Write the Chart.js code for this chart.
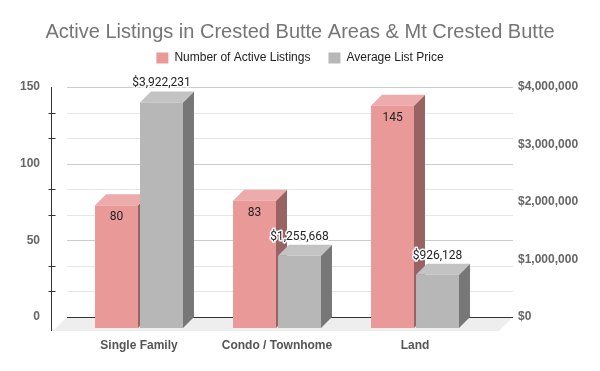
<!DOCTYPE html>
<html>
<head>
<meta charset="utf-8">
<script src="https://cdn.jsdelivr.net/npm/chart.js@4.4.0/dist/chart.umd.min.js"></script>
<style>
  html, body { margin: 0; padding: 0; background: #fff; }
  #wrap { width: 600px; height: 371px; }
</style>
</head>
<body>
<div id="wrap"><canvas id="chart" width="600" height="371"></canvas></div>
<script>
// chart data
const categories = ['Single Family', 'Condo / Townhome', 'Land'];
const activeListings = [80, 83, 145];
const avgListPrice = [3922231, 1255668, 926128];

const seriesNames = ['Number of Active Listings', 'Average List Price'];
const frontColors = ['#ea9999', '#b7b7b7'];
const topColors = ['#edacab', '#c3c3c3'];
const sideColors = ['#996363', '#777777'];

const DEPTH = 11;   // bar extrusion
const FLOOR = 14;   // floor depth

function money(v) {
  return '$' + Math.round(v).toLocaleString('en-US');
}

// empty box between legend and plot, so the plot starts where the original does
const spacer = {
  id: 'spacer',
  beforeInit(chart) {
    Chart.layouts.addBox(chart, {
      position: 'top',
      weight: 1,
      fullSize: true,
      options: {},
      left: 0, top: 0, right: 0, bottom: 0, width: 0, height: 0,
      isHorizontal() { return true; },
      update(maxWidth) {
        this.width = maxWidth;
        this.height = 13;
      },
      draw() {}
    });
  }
};

// draws the grid, floor and the 3D bars from the bar elements Chart.js laid out
const bars3d = {
  id: 'bars3d',
  beforeDatasetsDraw(chart) {
    const ctx = chart.ctx;
    const area = chart.chartArea;
    const yL = chart.scales.y;
    const gl = area.left - 14;
    const gr = area.right + 18;
    const base = yL.getPixelForValue(0);

    ctx.save();

    // floor
    ctx.fillStyle = '#eeeeee';
    ctx.beginPath();
    ctx.moveTo(gl, base);
    ctx.lineTo(gr, base);
    ctx.lineTo(gr - FLOOR, base + FLOOR);
    ctx.lineTo(gl - FLOOR, base + FLOOR);
    ctx.closePath();
    ctx.fill();

    // grid lines + axis tick marks
    const axX = Math.round(gl - FLOOR - 1) - 0.5;
    ctx.lineWidth = 1;
    yL.ticks.forEach(t => {
      const y = Math.round(yL.getPixelForValue(t.value)) + 0.5;
      const major = Math.abs(t.value / 50 - Math.round(t.value / 50)) < 1e-6;
      if (t.value === 0) ctx.strokeStyle = '#333333';
      else if (major) ctx.strokeStyle = '#cccccc';
      else ctx.strokeStyle = '#e6e6e6';
      ctx.beginPath();
      ctx.moveTo(gl, y);
      ctx.lineTo(gr, y);
      ctx.stroke();
      if (!major) {
        ctx.strokeStyle = '#333333';
        ctx.beginPath();
        ctx.moveTo(axX - 3, y);
        ctx.lineTo(axX + 4, y);
        ctx.stroke();
      }
    });

    // left axis line
    ctx.strokeStyle = '#333333';
    ctx.beginPath();
    ctx.moveTo(axX, Math.round(area.top));
    ctx.lineTo(axX, Math.round(base + FLOOR));
    ctx.stroke();

    // bars, category by category so neighbours overlap correctly
    const labels = [];
    for (let i = 0; i < categories.length; i++) {
      chart.data.datasets.forEach((ds, di) => {
        const el = chart.getDatasetMeta(di).data[i];
        if (!el) return;
        const p = el.getProps(['x', 'y', 'base', 'width'], true);
        const w = p.width;
        const fx = p.x - w / 2 - DEPTH;
        const ft = p.y + DEPTH;
        const fb = p.base + DEPTH;

        // side
        ctx.fillStyle = sideColors[di];
        ctx.beginPath();
        ctx.moveTo(fx + w, ft);
        ctx.lineTo(fx + w + DEPTH, ft - DEPTH);
        ctx.lineTo(fx + w + DEPTH, fb - DEPTH);
        ctx.lineTo(fx + w, fb);
        ctx.closePath();
        ctx.fill();

        // top
        ctx.fillStyle = topColors[di];
        ctx.beginPath();
        ctx.moveTo(fx, ft);
        ctx.lineTo(fx + w, ft);
        ctx.lineTo(fx + w + DEPTH, ft - DEPTH);
        ctx.lineTo(fx + DEPTH, ft - DEPTH);
        ctx.closePath();
        ctx.fill();

        // front
        ctx.fillStyle = frontColors[di];
        ctx.fillRect(fx, ft, w, fb - ft);

        labels.push({ di, x: fx + w / 2, top: ft, value: ds.data[i] });
      });
    }

    // value labels
    ctx.font = '12px Roboto, "Liberation Sans", Arial, sans-serif';
    ctx.textAlign = 'center';
    ctx.textBaseline = 'middle';
    labels.forEach(l => {
      if (l.di === 0) {
        ctx.fillStyle = '#222222';
        ctx.fillText(String(l.value), l.x, l.top + 12);
      } else {
        const txt = money(l.value);
        ctx.lineJoin = 'round';
        ctx.lineWidth = 3;
        ctx.strokeStyle = '#ffffff';
        ctx.strokeText(txt, l.x, l.top - 19);
        ctx.fillStyle = '#222222';
        ctx.fillText(txt, l.x, l.top - 19);
      }
    });

    ctx.restore();
    return false;
  }
};

new Chart(document.getElementById('chart'), {
  type: 'bar',
  data: {
    labels: categories,
    datasets: [
      {
        label: seriesNames[0],
        data: activeListings,
        backgroundColor: frontColors[0],
        yAxisID: 'y',
        categoryPercentage: 0.652,
        barPercentage: 0.955
      },
      {
        label: seriesNames[1],
        data: avgListPrice,
        backgroundColor: frontColors[1],
        yAxisID: 'y1',
        categoryPercentage: 0.652,
        barPercentage: 0.955
      }
    ]
  },
  options: {
    responsive: false,
    animation: false,
    layout: { padding: 0 },
    plugins: {
      title: {
        display: true,
        text: 'Active Listings in Crested Butte Areas & Mt Crested Butte',
        color: '#757575',
        font: { family: '"Liberation Sans", Arial, sans-serif', size: 20, weight: 'normal' },
        padding: { top: 20, bottom: -10 }
      },
      legend: {
        display: true,
        labels: {
          color: '#222222',
          font: { family: '"Liberation Sans", Arial, sans-serif', size: 12 },
          boxWidth: 12,
          boxHeight: 11,
          padding: 18
        }
      },
      tooltip: { enabled: false }
    },
    scales: {
      x: {
        grid: { display: false, drawTicks: false },
        border: { display: false },
        ticks: {
          color: '#555555',
          font: { family: '"Liberation Sans", Arial, sans-serif', size: 12, weight: 'bold' },
          labelOffset: -DEPTH,
          padding: 21,
          maxRotation: 0
        },
        afterFit(scale) { scale.height = 54; }
      },
      y: {
        position: 'left',
        min: 0,
        max: 150,
        grid: { display: false, drawTicks: false },
        border: { display: false },
        ticks: {
          count: 10,
          color: '#666666',
          font: { family: '"Liberation Sans", Arial, sans-serif', size: 12, weight: 'bold' },
          padding: 41,
          callback(v) {
            return Math.abs(v / 50 - Math.round(v / 50)) < 1e-6 ? String(Math.round(v)) : '';
          }
        },
        afterFit(scale) { scale.width = 81; }
      },
      y1: {
        position: 'right',
        min: 0,
        max: 4000000,
        grid: { display: false, drawTicks: false },
        border: { display: false },
        ticks: {
          stepSize: 1000000,
          color: '#666666',
          font: { family: '"Liberation Sans", Arial, sans-serif', size: 12, weight: 'bold' },
          padding: 23,
          callback(v) { return money(v); }
        },
        afterFit(scale) { scale.width = 105; }
      }
    }
  },
  plugins: [spacer, bars3d]
});
</script>
</body>
</html>
